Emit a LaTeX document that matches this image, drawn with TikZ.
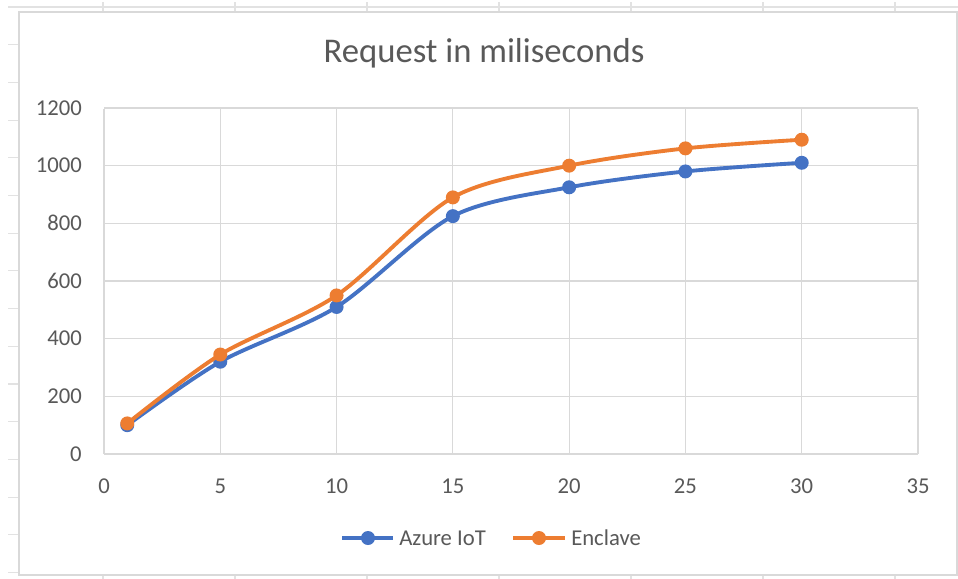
\documentclass[tikz,border=0pt]{standalone}
\usepackage{fontspec}
\setmainfont{Carlito}
\definecolor{azureblue}{HTML}{4472C4}
\definecolor{enclaveorange}{HTML}{ED7D31}
\definecolor{gridgray}{HTML}{D9D9D9}
\definecolor{sheetgray}{HTML}{E2E2E2}
\definecolor{labelgray}{HTML}{595959}
\begin{document}
\begin{tikzpicture}[x=0.75pt,y=-0.75pt,
  gridline/.style={draw=gridgray,line width=0.9pt},
  sheetline/.style={draw=sheetgray,line width=0.8pt},
  series/.style={draw=#1,line width=2.9pt,line cap=round,line join=round},
  dot/.style={circle,inner sep=0pt,minimum size=10.5pt,fill=#1,draw=none},
  ticklabel/.style={font=\fontsize{17}{20}\selectfont,text=labelgray,inner sep=0pt},
  titlelabel/.style={font=\fontsize{26}{30}\selectfont,text=labelgray,inner sep=0pt}]
\useasboundingbox (0,0) rectangle (958,579);
\fill[white] (0,0) rectangle (958,579);

% worksheet cells around the chart object
\draw[sheetline] (8,7) -- (958,7);
\foreach \c in {103,235,367,499,631,763,895} {
  \draw[sheetline] (\c,2) -- (\c,12);
  \draw[sheetline] (\c,575) -- (\c,579);
}
\foreach \r in {0,...,15} \draw[sheetline] (8,{7+37.7*\r}) -- (19,{7+37.7*\r});

% chart frame
\draw[draw=gridgray,line width=1pt] (19,12) rectangle (957,575);

% plot grid
\foreach \v in {0,5,...,35} \draw[gridline] ({104+23.257*\v},109) -- ({104+23.257*\v},454);
\foreach \v in {0,200,...,1200} \draw[gridline] (104,{454-0.28833*\v}) -- ({104+23.257*35},{454-0.28833*\v});

% axis tick labels
\foreach \v in {0,5,...,35}
  \node[ticklabel,anchor=base] (xl\v) at ({104+23.257*\v},493) {\v};
\foreach \v in {0,200,...,1200}
  \node[ticklabel,anchor=base east] (yl\v) at (82,{454-0.28833*\v+7}) {\v};

% title
\node[titlelabel,anchor=base] (title) at (484,62) {Request in miliseconds};

% Azure IoT series
\foreach \i/\x/\v in {1/1/100,2/5/320,3/10/510,4/15/825,5/20/925,6/25/980,7/30/1010}
  \coordinate (a\i) at ({104+23.257*\x},{454-0.28833*\v});
\draw[series=azureblue] plot[smooth,tension=0.5] coordinates {(a1) (a2) (a3) (a4) (a5) (a6) (a7)};
\foreach \i in {1,...,7} \node[dot=azureblue] (am\i) at (a\i) {};

% Enclave series
\foreach \i/\x/\v in {1/1/106,2/5/345,3/10/550,4/15/890,5/20/1000,6/25/1060,7/30/1090}
  \coordinate (e\i) at ({104+23.257*\x},{454-0.28833*\v});
\draw[series=enclaveorange] plot[smooth,tension=0.5] coordinates {(e1) (e2) (e3) (e4) (e5) (e6) (e7)};
\foreach \i in {1,...,7} \node[dot=enclaveorange] (em\i) at (e\i) {};

% legend
\coordinate (la) at (342,538); \coordinate (lb) at (393,538);
\draw[series=azureblue,line cap=butt] (la) -- (lb);
\node[dot=azureblue] (lam) at (368,538) {};
\node[ticklabel,anchor=base west] (lat) at (399,545) {Azure IoT};
\coordinate (lc) at (513,538); \coordinate (ld) at (565,538);
\draw[series=enclaveorange,line cap=butt] (lc) -- (ld);
\node[dot=enclaveorange] (lem) at (539,538) {};
\node[ticklabel,anchor=base west] (let) at (571,545) {Enclave};
\end{tikzpicture}
\end{document}
